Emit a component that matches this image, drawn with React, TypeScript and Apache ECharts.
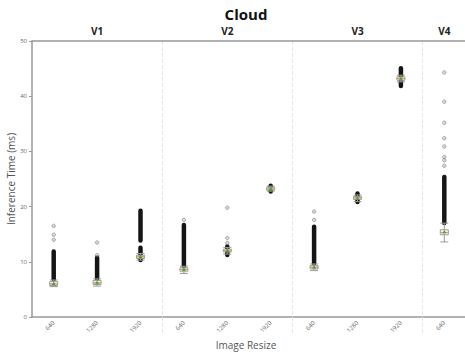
import React, { useEffect, useRef } from "react";
import * as echarts from "echarts";

const categories = ["640", "1280", "1920", "640", "1280", "1920", "640", "1280", "1920", "640"];
const groupLabels = ["", "V1", "", "", "V2", "", "", "V3", "", "V4"];
const yTicks = [0, 10, 20, 30, 40, 50];

// [min, Q1, median, Q3, max]
const boxStats = [
  [5.5, 5.7, 6.0, 6.4, 6.7],
  [5.6, 5.9, 6.2, 6.6, 6.9],
  [10.3, 10.6, 10.9, 11.2, 11.5],
  [7.9, 8.3, 8.6, 8.9, 9.2],
  [11.4, 11.8, 12.0, 12.3, 12.6],
  [22.8, 23.0, 23.2, 23.5, 23.7],
  [8.4, 8.7, 9.0, 9.3, 9.6],
  [20.9, 21.3, 21.6, 21.8, 22.1],
  [42.6, 42.9, 43.2, 43.5, 43.8],
  [13.6, 14.9, 15.3, 15.8, 17.0],
];
const means = [6.1, 6.3, 11.0, 8.7, 12.1, 23.3, 9.1, 21.6, 43.2, 15.5];

// dense runs of outliers: [category index, low, high]
const denseOutliers = [
  [0, 6.8, 11.9],
  [1, 6.9, 10.8],
  [2, 10.3, 12.6],
  [2, 13.8, 19.3],
  [3, 9.0, 16.7],
  [4, 11.2, 12.8],
  [5, 22.7, 23.8],
  [6, 9.7, 16.4],
  [7, 20.8, 22.4],
  [8, 41.8, 45.1],
  [9, 17.0, 25.4],
];

// isolated outliers: [category index, value]
const isolatedOutliers = [
  [0, 14.0], [0, 14.9], [0, 16.5],
  [1, 11.2], [1, 13.5],
  [3, 17.6],
  [4, 13.4], [4, 14.3], [4, 19.8],
  [6, 17.6], [6, 19.1],
  [9, 27.4], [9, 28.4], [9, 29.0], [9, 30.9], [9, 32.4], [9, 35.2], [9, 39.0], [9, 44.3],
];

const groupBoundaries = [3, 6, 9];

export default function App() {
  const ref = useRef<HTMLDivElement>(null);
  useEffect(() => {
    if (!ref.current) return;
    const chart = echarts.init(ref.current, null, { renderer: "svg" });
    const font = "Open Sans";
    const sepFn = (i: number) => groupBoundaries.indexOf(i) >= 0;
    chart.setOption({
      animation: false,
      textStyle: { fontFamily: font },
      title: [
        {
          text: "Cloud",
          left: 241,
          top: 1,
          textAlign: "center",
          textStyle: { fontSize: 15, fontWeight: "bold", color: "#111", fontFamily: font },
        },
        {
          text: "Image Resize",
          left: 241,
          top: 335,
          textAlign: "center",
          textStyle: { fontSize: 10, fontWeight: "normal", color: "#555", fontFamily: font },
        },
      ],
      grid: {
        left: 32,
        top: 41,
        width: 434,
        height: 276,
        containLabel: false,
        outerBoundsMode: "none",
      },
      xAxis: [
        {
          type: "category",
          data: categories,
          position: "bottom",
          axisLine: { show: true, lineStyle: { color: "#999", width: 1.5 } },
          axisTick: {
            show: true,
            interval: (i: number) => sepFn(i),
            length: 16,
            lineStyle: { color: "#e6e6e6", type: "dashed", width: 1 },
          },
          axisLabel: {
            interval: 0,
            rotate: 45,
            fontSize: 6,
            color: "#666",
            margin: 5,
          },
        },
        {
          type: "category",
          data: groupLabels,
          position: "top",
          axisLine: { show: true, lineStyle: { color: "#999", width: 1.5 } },
          axisTick: { show: false },
          axisLabel: { interval: 0, fontSize: 10, fontWeight: "bold", color: "#222", margin: 5 },
          splitLine: {
            show: true,
            interval: (i: number) => sepFn(i),
            lineStyle: { color: "#e6e6e6", type: "dashed", width: 1 },
          },
        },
      ],
      yAxis: {
        type: "value",
        min: yTicks[0],
        max: yTicks[yTicks.length - 1],
        interval: 10,
        name: "Inference Time (ms)",
        nameLocation: "middle",
        nameGap: 16,
        nameMoveOverlap: false,
        nameTextStyle: { fontSize: 10, color: "#555", fontFamily: font },
        axisLine: { show: true, lineStyle: { color: "#999", width: 1.5 } },
        axisTick: { show: true, length: 3, lineStyle: { color: "#999" } },
        axisLabel: { fontSize: 6, color: "#666", margin: 5 },
        splitLine: { show: false },
      },
      series: [
        {
          type: "custom",
          xAxisIndex: 0,
          data: denseOutliers,
          encode: { x: 0, y: [1, 2] },
          z: 2,
          renderItem: (params: any, api: any) => {
            const x = api.value(0);
            const lo = api.coord([x, api.value(1)]);
            const hi = api.coord([x, api.value(2)]);
            return {
              type: "rect",
              shape: { x: lo[0] - 2.25, y: hi[1] - 2, width: 4.5, height: lo[1] - hi[1] + 4, r: 2.25 },
              style: { fill: "#151515" },
            };
          },
        },
        {
          type: "scatter",
          xAxisIndex: 0,
          data: isolatedOutliers,
          symbol: "circle",
          symbolSize: 3.5,
          z: 3,
          itemStyle: { color: "rgba(120,120,120,0.35)", borderColor: "#777", borderWidth: 0.7 },
        },
        {
          type: "boxplot",
          xAxisIndex: 0,
          data: boxStats,
          boxWidth: [8, 8],
          z: 4,
          itemStyle: { color: "rgba(255,255,255,0.85)", borderColor: "#999", borderWidth: 1 },
        },
        {
          type: "scatter",
          xAxisIndex: 0,
          data: boxStats.map((b, i) => [i, b[2]]),
          symbol: "rect",
          symbolSize: [8, 1.3],
          z: 5,
          itemStyle: { color: "#f0a050" },
        },
        {
          type: "scatter",
          xAxisIndex: 0,
          data: means.map((m, i) => [i, m]),
          symbol: "triangle",
          symbolSize: 4,
          z: 6,
          itemStyle: { color: "#2ca02c" },
        },
      ],
    });
    return () => chart.dispose();
  }, []);
  return (
    <div
      ref={ref}
      style={{ position: "fixed", left: 0, top: 0, width: 465, height: 352, background: "#fff" }}
    />
  );
}
